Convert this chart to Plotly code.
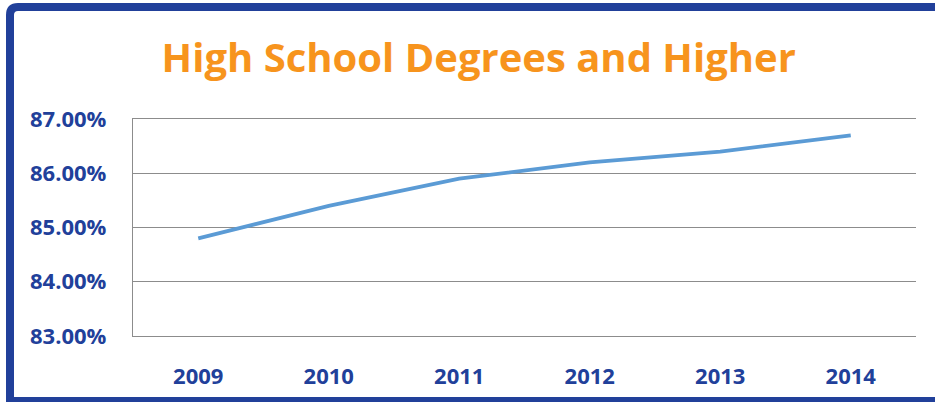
import plotly.graph_objects as go

years = ["2009", "2010", "2011", "2012", "2013", "2014"]
values = [84.8, 85.4, 85.9, 86.2, 86.4, 86.7]
tick_vals = [83, 84, 85, 86, 87]
tick_text = ["83.00%", "84.00%", "85.00%", "86.00%", "87.00%"]

W, H = 935, 402
L, R, T, B = 133, 19, 119, 66
pw, ph = W - L - R, H - T - B

def px(x):
    return (x - L) / pw

def py(y):
    return (H - B - y) / ph

fig = go.Figure()
fig.add_trace(go.Scatter(x=years, y=values, mode="lines",
                         line=dict(color="#5B9BD5", width=3.8), hoverinfo="skip"))

blue = "#21409A"
grid = "#8C8C8C"
# outer frame (rounded top-left corner), extends past right/bottom edges
r = 8
path = (f"M {px(945)},{py(7)} L {px(10 + r)},{py(7)} "
        f"Q {px(10)},{py(7)} {px(10)},{py(7 + r)} "
        f"L {px(10)},{py(401)} L {px(945)},{py(401)}")
fig.add_shape(type="path", path=path, xref="paper", yref="paper",
              line=dict(color=blue, width=8))

fig.update_layout(
    width=W, height=H,
    margin=dict(l=L, r=R, t=T, b=B),
    paper_bgcolor="white", plot_bgcolor="white",
    showlegend=False,
    title=dict(text="<b>High School Degrees and Higher</b>",
               x=0.512, xanchor="center", y=1 - 58 / H, yanchor="middle",
               yref="container",
               font=dict(family="Open Sans", size=40, color="#F7941D")),
    xaxis=dict(type="category", range=[-0.5, 5.5], showgrid=False,
               showline=True, mirror=True, linecolor=grid, linewidth=1.3,
               zeroline=False, ticks="",
               tickfont=dict(family="Open Sans", size=22, color=blue, weight="bold"),
               ticklabelstandoff=20),
    yaxis=dict(range=[83, 87], tickvals=tick_vals, ticktext=tick_text,
               showgrid=True, gridcolor=grid, gridwidth=1.3,
               showline=True, linecolor=grid, linewidth=1.3,
               zeroline=False, ticks="",
               tickfont=dict(family="Open Sans", size=22, color=blue, weight="bold"),
               ticklabelstandoff=21),
)

fig.write_html("out.html")
